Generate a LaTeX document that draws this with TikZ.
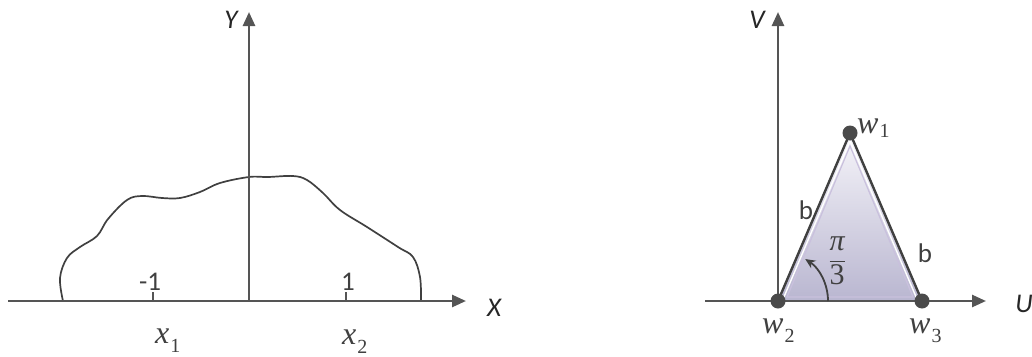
\documentclass[tikz,border=0pt]{standalone}
\usepackage{fontspec}
\setmainfont{Liberation Serif}
\newfontfamily\lblfont{Carlito}
\usetikzlibrary{arrows.meta,shadings,calc}
\definecolor{axisgray}{HTML}{555555}
\definecolor{curvegray}{HTML}{404040}
\definecolor{dotgray}{HTML}{4A4A4A}
\definecolor{lavtop}{HTML}{F6F5FA}
\definecolor{lavbot}{HTML}{B9B6D0}
\definecolor{lavline}{HTML}{C9C0DD}
\newcommand{\mysub}[3][9pt]{{\itshape #2}\kern1pt\raisebox{-#1}{\fontsize{20}{20}\selectfont #3}}
\tikzset{
  axis/.style={draw=axisgray, line width=2.6pt, -{Triangle[length=14pt,width=12pt]}},
  ticklbl/.style={font=\lblfont\fontsize{27}{27}\selectfont, text=curvegray, inner sep=0pt},
  axlbl/.style={font=\lblfont\itshape\fontsize{27}{27}\selectfont, text=black!85, inner sep=0pt},
  varlbl/.style={font=\fontsize{32}{32}\selectfont, text=curvegray, inner sep=0pt, anchor=base west},
  fraclbl/.style={font=\fontsize{30}{30}\selectfont, text=curvegray, inner sep=0pt},
  vdot/.style={circle, fill=dotgray, minimum size=15pt, inner sep=0pt},
  tickline/.style={draw=axisgray, line width=1.5pt}
}
\begin{document}
\begin{tikzpicture}[x=1pt,y=-1pt]
\useasboundingbox (0,0) rectangle (1032,356);
% ---------- left panel ----------
\coordinate (xs) at (8,301);
\coordinate (xe) at (466,301);
\coordinate (o) at (249,301);
\coordinate (ye) at (249,12);
\coordinate (t1) at (153,301);
\coordinate (t1b) at (153,292);
\coordinate (t2) at (346,301);
\coordinate (t2b) at (346,292);
\draw[curvegray, line width=1.7pt, line join=round]
  plot[smooth, tension=0.6] coordinates {
  (63,301) (60,278) (67,258) (80,247) (97,236) (108,219) (127,200) (142,196)
  (162,198) (180,198) (200,192) (220,183) (249,177) (268,177) (293,176)
  (307,180) (323,193) (340,210) (367,227) (398,247) (413,257) (420,277) (421,301)};
\draw[axis] (xs) -- (xe);
\draw[axis] (o) -- (ye);
\draw[tickline] (t1) -- (t1b);
\draw[tickline] (t2) -- (t2b);
\node[ticklbl] (m1) at (150,282) {-1};
\node[ticklbl] (p1) at (348,282) {1};
\node[axlbl] (Ylbl) at (231,20) {Y};
\node[axlbl] (Xlbl) at (494,308) {X};
\node[varlbl] (x1) at (155,343) {\mysub{x}{1}};
\node[varlbl] (x2) at (342,344) {\mysub{x}{2}};
% ---------- right panel ----------
\coordinate (us) at (705,301);
\coordinate (ue) at (986,301);
\coordinate (ve) at (778,12);
\coordinate (w2p) at (778,301);
\coordinate (w3p) at (922,301);
\coordinate (w1p) at (850,133);
\shade[top color=lavtop, bottom color=lavbot] (w1p) -- (w2p) -- (w3p) -- cycle;
\draw[axis] (us) -- (ue);
\draw[axis] (w2p) -- (ve);
\draw[lavline, line width=1.2pt] ($(w1p)+(0,13)$) -- ($(w2p)+(9,-4)$) -- ($(w3p)+(-9,-4)$) -- cycle;
\draw[white, line width=1.4pt] ($(w1p)+(0,8)$) -- ($(w2p)+(5,-1.8)$);
\draw[white, line width=1.4pt] ($(w1p)+(0,8)$) -- ($(w3p)+(-5,-1.8)$);
\draw[curvegray, line width=2.4pt, line join=round] (w2p) -- (w1p) -- (w3p);
\node[vdot] (w1) at (w1p) {};
\node[vdot] (w2) at (w2p) {};
\node[vdot] (w3) at (w3p) {};
\draw[curvegray, line width=1.8pt, -{Stealth[length=10pt,width=9pt]}]
  (828,301) arc[start angle=0, end angle=-57, radius=50];
\node[axlbl] (Vlbl) at (757,20) {V};
\node[axlbl] (Ulbl) at (1024,304) {U};
\node[ticklbl] (b1) at (806,210) {b};
\node[ticklbl] (b2) at (925,253) {b};
\node[varlbl] (w1l) at (857,133) {\mysub[4pt]{w}{1}};
\node[varlbl] (w2l) at (762,333) {\mysub{w}{2}};
\node[varlbl] (w3l) at (909,333) {\mysub{w}{3}};
\node[fraclbl] (pi3) at (837,261) {$\displaystyle\frac{\mbox{\itshape π}}{\mbox{3}}$};
\end{tikzpicture}
\end{document}
